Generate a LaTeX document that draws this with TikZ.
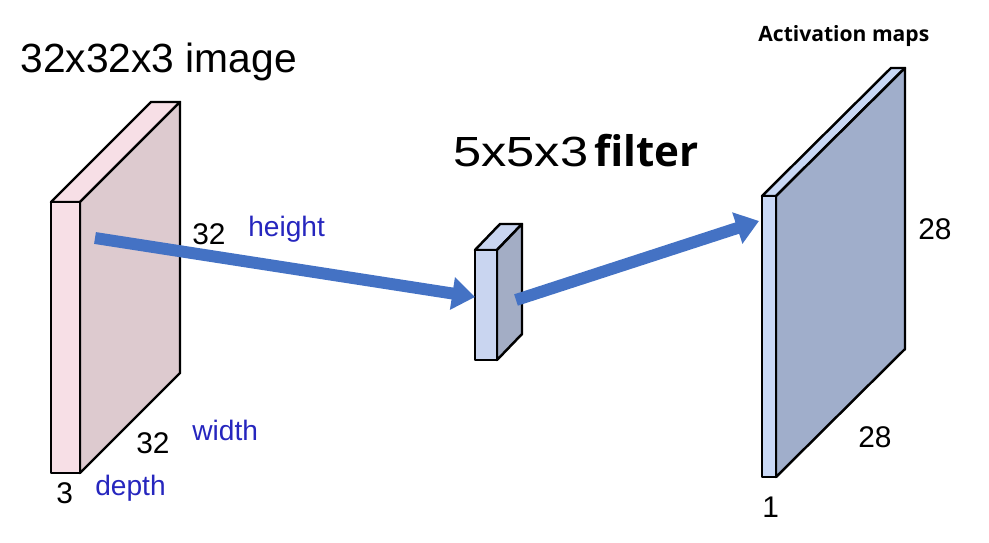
\documentclass[tikz,border=0pt]{standalone}
\usepackage{fontspec}
\setmainfont{Liberation Sans}
\newfontfamily\boldsans{Open Sans}
\usepackage{xcolor}
\definecolor{arrowblue}{RGB}{68,114,196}
\definecolor{labelblue}{RGB}{38,38,190}
\definecolor{imgfront}{RGB}{247,223,230}
\definecolor{imgside}{RGB}{221,202,207}
\definecolor{filtfront}{RGB}{201,213,240}
\definecolor{filtside}{RGB}{163,173,197}
\definecolor{mapfront}{RGB}{201,216,245}
\definecolor{mapside}{RGB}{160,174,203}
\usepackage{tikz}
\usetikzlibrary{arrows.meta}

\tikzset{
  slab/.style={draw=black, line width=1.4pt, line join=round},
  flow/.style={arrowblue, line width=6.8pt, -{Triangle[width=18pt,length=13pt]}},
  dimlabel/.style={font=\fontsize{17}{20}\selectfont, anchor=base west, inner sep=0pt},
  namelabel/.style={font=\fontsize{16}{19}\selectfont, labelblue, anchor=base west, inner sep=0pt}
}

\begin{document}
\begin{tikzpicture}[x=0.02cm, y=-0.02cm]
  \useasboundingbox (0,0) rectangle (989,543);

  % --- Input image 32x32x3 ---
  \node[font=\fontsize{23.2}{27}\selectfont, anchor=base west, inner sep=0pt] (imgtitle) at (20,73) {32x32x3 image};
  \draw[slab, fill=imgfront] (51,202) -- (151,102) -- (180,102) -- (80,202) -- cycle;
  \draw[slab, fill=imgside] (80,202) -- (180,102) -- (180,373) -- (80,473) -- cycle;
  \draw[slab, fill=imgfront] (51,202) rectangle (80,473);
  \node[dimlabel] (imgh) at (192,245) {32};
  \node[namelabel] (heightlbl) at (248,237) {height};
  \node[dimlabel] (imgw) at (136,453) {32};
  \node[namelabel] (widthlbl) at (192,440) {width};
  \node[dimlabel] (imgd) at (56,503) {3};
  \node[namelabel] (depthlbl) at (95,495) {depth};

  % --- Filter 5x5x3 ---
  \node[font=\fontsize{24}{28}\selectfont, anchor=base west, inner sep=0pt, xscale=1.2] (filttitle) at (453,167) {5x5x3};
  \node[font=\boldsans\bfseries\fontsize{24}{28}\selectfont, anchor=base west, inner sep=0pt] (filtword) at (594,167) {filter};
  \draw[slab, fill=filtfront] (475,250) -- (500,224) -- (522,224) -- (497,250) -- cycle;
  \draw[slab, fill=filtside] (497,250) -- (522,224) -- (522,334) -- (497,360) -- cycle;
  \draw[slab, fill=filtfront] (475,250) rectangle (497,360);

  % --- Activation map 28x28x1 ---
  \node[font=\boldsans\bfseries\fontsize{12}{15}\selectfont, anchor=base west, inner sep=0pt] (maptitle) at (758,42) {Activation maps};
  \draw[slab, fill=mapfront] (762,196) -- (891,68) -- (905,68) -- (776,196) -- cycle;
  \draw[slab, fill=mapside] (776,196) -- (905,68) -- (905,349) -- (776,477) -- cycle;
  \draw[slab, fill=mapfront] (762,196) rectangle (776,477);
  \node[dimlabel] (maph) at (918,240) {28};
  \node[dimlabel] (mapw) at (858,447) {28};
  \node[dimlabel] (mapd) at (762,517) {1};

  % --- Arrows ---
  \coordinate (imgin) at (95,238);
  \coordinate (filtin) at (475,297);
  \coordinate (filtout) at (516,300);
  \coordinate (mapin) at (759,221);
  \draw[flow] (imgin) -- (filtin);
  \draw[flow] (filtout) -- (mapin);
\end{tikzpicture}
\end{document}
